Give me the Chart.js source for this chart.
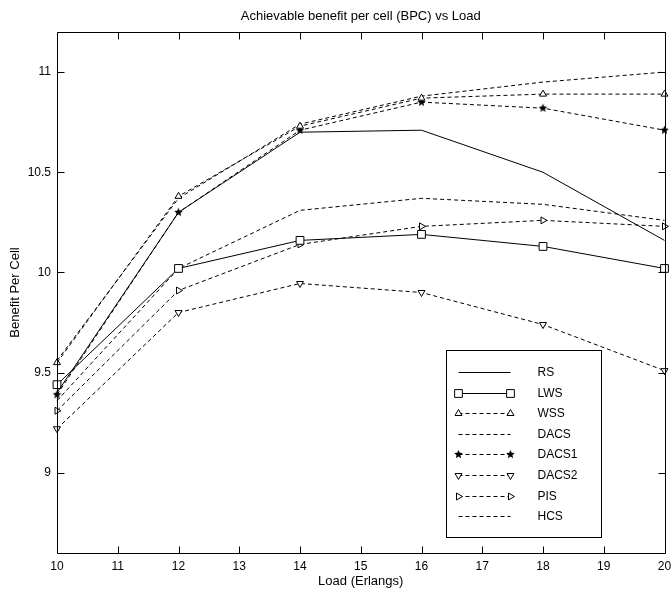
<!DOCTYPE html>
<html>
<head>
<meta charset="UTF-8">
<title>BPC vs Load</title>
<script src="https://cdn.jsdelivr.net/npm/chart.js"></script>
<style>
  html, body { margin: 0; padding: 0; background: #fff; }
</style>
</head>
<body>
<canvas id="grafico" width="671" height="592"></canvas>
<script>
// valores
const loads = [10, 12, 14, 16, 18, 20];
const rs    = [9.40, 10.30, 10.70, 10.71, 10.50, 10.16];
const lws   = [9.44, 10.02, 10.16, 10.19, 10.13, 10.02];
const wss   = [9.55, 10.38, 10.73, 10.87, 10.89, 10.89];
const dacs  = [9.56, 10.37, 10.74, 10.88, 10.95, 11.00];
const dacs1 = [9.39, 10.30, 10.71, 10.85, 10.82, 10.71];
const dacs2 = [9.22, 9.80, 9.945, 9.90, 9.74, 9.51];
const pis   = [9.31, 9.91, 10.14, 10.23, 10.26, 10.23];
const hcs   = [9.36, 10.02, 10.31, 10.37, 10.34, 10.26];

const nomes = ['RS', 'LWS', 'WSS', 'DACS', 'DACS1', 'DACS2', 'PIS', 'HCS'];
const series = [rs, lws, wss, dacs, dacs1, dacs2, pis, hcs];
const xTicks = [10, 11, 12, 13, 14, 15, 16, 17, 18, 19, 20];
const yTicks = [9, 9.5, 10, 10.5, 11];

const fonte = "'Liberation Sans', Arial, sans-serif";

// estrela preenchida (marcador do DACS1)
function fazerEstrela(r) {
    const c = document.createElement('canvas');
    c.width = c.height = 2 * r + 2;
    const g = c.getContext('2d');
    g.fillStyle = '#000';
    g.beginPath();
    for (let i = 0; i < 10; i++) {
        const raio = i % 2 == 0 ? r : r * 0.45;
        const ang = -Math.PI / 2 + i * Math.PI / 5;
        const px = r + 1 + raio * Math.cos(ang);
        const py = r + 1 + raio * Math.sin(ang);
        if (i == 0) g.moveTo(px, py); else g.lineTo(px, py);
    }
    g.closePath();
    g.fill();
    return c;
}
const estrela = fazerEstrela(4.5);

// estilo de cada serie
const estilos = [
    { dash: [], ponto: false },
    { dash: [], ponto: 'rect', raio: 5.5, rot: 0 },
    { dash: [4, 3], ponto: 'triangle', raio: 4, rot: 0 },
    { dash: [4, 3], ponto: false },
    { dash: [4, 3], ponto: estrela, raio: 4.5, rot: 0 },
    { dash: [4, 3], ponto: 'triangle', raio: 4, rot: 180 },
    { dash: [4, 3], ponto: 'triangle', raio: 4, rot: 90 },
    { dash: [4, 3], ponto: false }
];

const datasets = series.map(function (valores, i) {
    const e = estilos[i];
    return {
        label: nomes[i],
        data: loads.map((x, j) => ({ x: x, y: valores[j] })),
        borderColor: '#000',
        borderWidth: 1,
        borderDash: e.dash,
        backgroundColor: '#fff',
        pointStyle: e.ponto || 'circle',
        pointRadius: e.ponto ? e.raio : 0,
        pointRotation: e.rot || 0,
        pointBorderColor: '#000',
        pointBackgroundColor: '#fff',
        pointBorderWidth: 1,
        tension: 0,
        clip: false
    };
});

// caixa, ticks para dentro e legenda no estilo matlab
const eixosPlugin = {
    id: 'eixosMatlab',
    afterDraw(chart) {
        const { ctx, chartArea: a, scales } = chart;
        ctx.save();
        ctx.strokeStyle = '#000';
        ctx.lineWidth = 1;
        ctx.setLineDash([]);
        const L = Math.round(a.left) + 0.5, R = Math.round(a.right) + 0.5;
        const T = Math.round(a.top) + 0.5, B = Math.round(a.bottom) + 0.5;
        ctx.beginPath();
        ctx.rect(L, T, R - L, B - T);
        xTicks.forEach(function (v) {
            const px = Math.round(scales.x.getPixelForValue(v)) + 0.5;
            ctx.moveTo(px, B); ctx.lineTo(px, B - 7);
            ctx.moveTo(px, T); ctx.lineTo(px, T + 7);
        });
        yTicks.forEach(function (v) {
            const py = Math.round(scales.y.getPixelForValue(v)) + 0.5;
            ctx.moveTo(L, py); ctx.lineTo(L + 7, py);
            ctx.moveTo(R, py); ctx.lineTo(R - 7, py);
        });
        ctx.stroke();

        // legenda
        const bx = Math.round(a.right) - 219 + 0.5, by = Math.round(a.top) + 318 + 0.5;
        const bw = 155, bh = 187;
        ctx.fillStyle = '#fff';
        ctx.fillRect(bx, by, bw, bh);
        ctx.strokeRect(bx, by, bw, bh);
        ctx.font = '12px ' + fonte;
        ctx.textBaseline = 'middle';
        ctx.textAlign = 'left';
        chart.data.datasets.forEach(function (ds, i) {
            const e = estilos[i];
            const y = Math.round(by + 21.5 + i * 20.6) + 0.5;
            const x1 = bx + 12, x2 = bx + 64;
            ctx.strokeStyle = '#000';
            ctx.lineWidth = 1;
            ctx.setLineDash(e.dash);
            ctx.beginPath();
            ctx.moveTo(x1, y); ctx.lineTo(x2, y);
            ctx.stroke();
            ctx.setLineDash([]);
            if (e.ponto) {
                [x1, x2].forEach(function (x) {
                    ctx.fillStyle = '#fff';
                    Chart.helpers.drawPoint(ctx, {
                        pointStyle: e.ponto, rotation: e.rot, radius: e.raio, borderWidth: 1
                    }, x, y);
                });
            }
            ctx.fillStyle = '#000';
            ctx.fillText(ds.label, bx + 91, y);
        });
        ctx.restore();
    }
};

const config = {
    type: 'line',
    data: { datasets: datasets },
    options: {
        responsive: false,
        animation: false,
        layout: { padding: { left: 0, right: 3, top: 0, bottom: 0 } },
        plugins: {
            legend: { display: false },
            tooltip: { enabled: false }
        },
        scales: {
            x: {
                type: 'linear',
                min: 10, max: 20,
                afterBuildTicks: s => { s.ticks = xTicks.map(v => ({ value: v })); },
                afterFit: s => { s.height = 39; s.paddingLeft = 0; s.paddingRight = 0; },
                grid: { display: false, drawTicks: false },
                border: { display: false },
                ticks: { color: '#000', font: { family: fonte, size: 12 }, padding: 6, maxRotation: 0 },
                title: {
                    display: true, text: 'Load (Erlangs)', color: '#000',
                    font: { family: fonte, size: 13 }, padding: { top: 0, bottom: 3 }
                }
            },
            // eixo de cima so para o titulo ficar centrado na area do grafico
            xTopo: {
                type: 'linear',
                position: 'top',
                min: 10, max: 20,
                afterFit: s => { s.height = 32; s.paddingLeft = 0; s.paddingRight = 0; },
                grid: { display: false, drawTicks: false },
                border: { display: false },
                ticks: { display: false },
                title: {
                    display: true, text: 'Achievable benefit per cell (BPC) vs Load', color: '#000',
                    font: { family: fonte, size: 13 }, padding: { top: 9, bottom: 0 }
                }
            },
            y: {
                type: 'linear',
                min: 8.6, max: 11.2,
                afterBuildTicks: s => { s.ticks = yTicks.map(v => ({ value: v })); },
                afterFit: s => { s.width = 57; s.paddingTop = 0; s.paddingBottom = 0; },
                grid: { display: false, drawTicks: false },
                border: { display: false },
                ticks: {
                    color: '#000', font: { family: fonte, size: 12 }, padding: 6,
                    callback: v => String(v)
                },
                title: {
                    display: true, text: 'Benefit Per Cell', color: '#000',
                    font: { family: fonte, size: 13 }, padding: { top: 8, bottom: 0 }
                }
            }
        }
    },
    plugins: [eixosPlugin]
};

new Chart(document.getElementById('grafico'), config);
</script>
</body>
</html>
